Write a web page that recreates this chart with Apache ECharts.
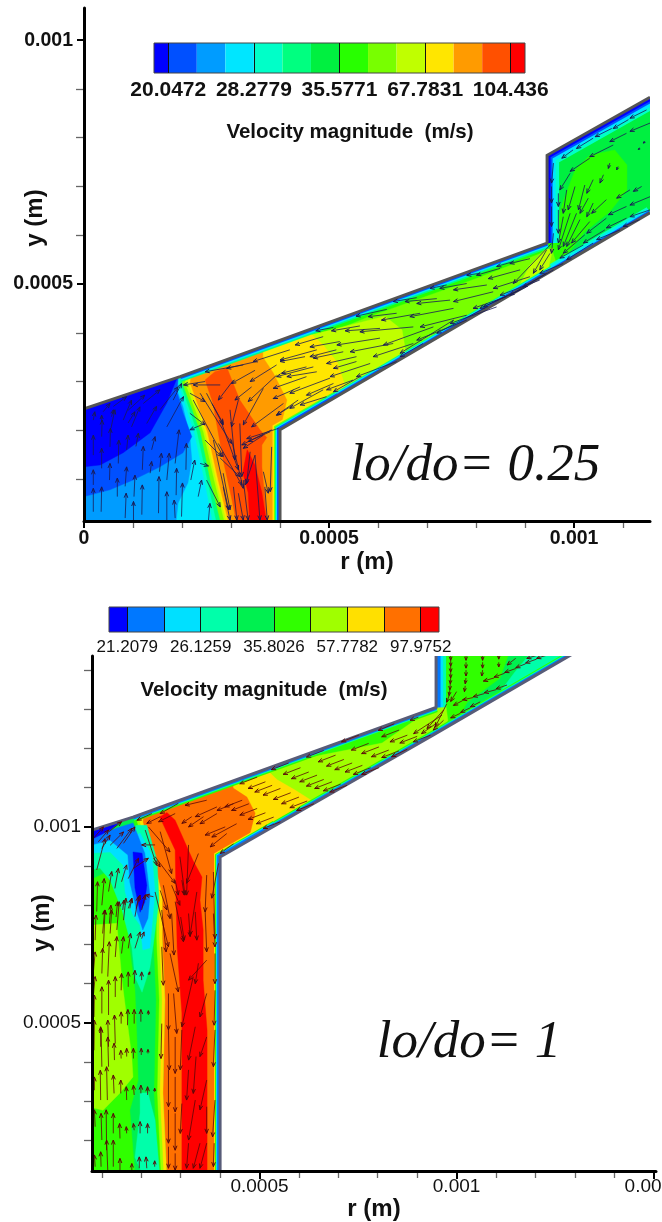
<!DOCTYPE html>
<html><head><meta charset="utf-8">
<style>html,body{margin:0;padding:0;background:#fff}#c{width:662px;height:1222px}</style>
<script src="https://cdn.jsdelivr.net/npm/echarts@6/dist/echarts.min.js"></script>
</head><body><div id="c"></div>
<script>
// All geometry values are in micrometres.
const UM = 1e-6;
const levelsA = ['#0000ff','#0050ff','#009cff','#00e6ff','#00ffc8','#00ff80','#00f040','#28ff00','#78ff00','#c0ff00','#ffe600','#ff9b00','#ff5000','#ff0000'];
const levelsB = ['#0000ff','#0078ff','#00e0ff','#00ffaa','#00f050','#30ff00','#a0ff00','#ffe000','#ff7000','#ff0000'];
const barLabelsA = ['20.0472','28.2779','35.5771','67.7831','104.436'];
const barLabelsB = ['21.2079','26.1259','35.8026','57.7782','97.9752'];
const xMajorA = [0,500,1000], yMajorA = [500,1000];
const xMinorA = [100,200,300,400,600,700,800,900,1100];
const yMinorA = [100,200,300,400,600,700,800,900];
const xMajorB = [500,1000,1500], yMajorB = [500,1000];
const xMinorB = [100,200,300,400,600,700,800,900,1100,1200,1300,1400];
const yMinorB = [200,300,400,600,700,800,900,1100,1200,1300,1400];

const contoursA = [
 [6,[0,-20,1200,-20,1200,1100,0,1100]],
 [7,[175,344,945,600,957,580,975,662,1002,734,1032,764,1083,775,1108,744,1108,693,1073,648,1022,607,981,553,963,518,645,221,175,-65]],
 [8,[441,375,579,432,808,514,930,562,955,570,963,545,951,498,645,221,339,17]],
 [9,[318,365,481,400,614,434,649,406,661,334,441,160,318,160]],
 [9,[940,570,957,574,947,529,889,498,910,539]],
 [10,[298,375,461,400,488,375,518,338,532,293,512,262,339,57,298,57]],
 [11,[0,262,206,334,365,375,365,350,386,318,414,262,400,201,420,-4,0,-4]],
 [10,[0,300,220,340,216,297,251,197,273,98,298,-4,0,-4]],
 [9,[0,300,214,340,212,297,247,197,269,98,294,-4,0,-4]],
 [8,[0,300,208,340,206,297,243,197,265,98,290,-4,0,-4]],
 [5,[0,300,202,340,200,297,237,197,257,98,282,-4,0,-4]],
 [4,[0,300,198,340,196,297,230,197,251,98,273,-4,0,-4]],
 [3,[0,300,194,340,192,297,224,197,245,98,265,-4,0,-4]],
 [2,[0,300,190,340,186,293,202,248,216,187,220,139,212,92,192,51,186,-4,0,-4]],
 [1,[0,64,53,78,100,98,155,125,202,154,220,187,202,236,190,277,192,307,0,300]],
 [0,[0,125,33,129,80,154,135,195,169,256,190,307,0,300]],
 [12,[247,303,267,320,292,328,304,297,318,262,359,201,373,185,363,170,363,125,375,-4,314,-4,302,57,284,139,263,256]],
 [13,[333,160,349,129,363,72,375,-4,339,-4,335,72,324,113]]
];
const maskA = [
 [0,244,196,310,945,584,945,764,1155,883,1155,1100,0,1100],
 [400,-20,400,201,957,529,1155,646,1155,-20]
];
const ductUpperA = [196,310,945,584];
const stepA = [945,584,945,764,1155,883];
const nozzleA = [400,14,400,201,520,271];
const ductLowerA = [400,14,400,201,957,529];
const exitLowerA = [957,529,1155,646];
const wallA = [[0,244,196,310,945,584,945,764,1155,883],[400,0,400,201,957,529,1155,646]];
const bandsA = [
 [ductUpperA,5,11],[ductUpperA,3,8],[ductUpperA,1,5],
 [ductLowerA,5,9],[ductLowerA,3,7],[ductLowerA,1,5],
 [nozzleA,10,15],[nozzleA,8,12],[nozzleA,5,10],[nozzleA,3,8],[nozzleA,1,6],
 [exitLowerA,4,13],[exitLowerA,3,9],[exitLowerA,1,5],
 [stepA,4,24],[stepA,3,17],[stepA,1,11],[stepA,0,7]
];
const arrowsLeftA = [
 [19,33,19,81],[19,88,19,119],[19,149,19,190],[35,33,36,84],[36,122,36,163],[36,187,37,221],[52,98,53,132],[53,166,54,204],
 [55,204,63,242],[68,64,68,102],[70,132,71,180],[84,20,86,71],[84,85,87,125],[87,160,90,190],[90,215,104,238],[101,16,101,54],
 [102,64,104,108],[119,119,121,167],[106,167,111,194],[118,27,119,88],[135,112,138,136],[138,160,145,187],[152,30,153,105],
 [154,115,158,153],[169,16,169,74],[169,98,174,153],[186,20,184,57],[188,67,189,122],[186,132,194,201],[199,23,201,92],
 [208,119,209,173],[218,98,226,139],[169,207,203,269],[128,214,148,249],[97,207,114,248],[80,221,97,262],[56,228,60,242],
 [36,218,36,231],[19,221,22,238],[90,241,124,272],[60,249,87,269],[39,238,53,255],[121,255,155,283],[155,242,192,289],
 [182,262,199,296],[254,16,257,50],[233,64,240,98]
];
const arrowsFrontA = [
 [216,276,247,259],[216,235,247,211],[247,214,216,201],[237,132,254,127],[247,300,203,293],[278,293,223,293],[325,334,247,320],
 [352,341,291,327],[305,303,274,262],[349,323,301,296],[342,289,308,262],[393,313,335,259],[366,286,325,211],[315,262,301,207],
 [407,255,342,207],[437,262,393,231],[250,276,284,211],[237,276,301,173],[223,262,284,146],[247,180,281,146],[261,255,284,214],
 [264,180,295,37],[250,98,278,43],[278,143,318,105],[298,242,308,139],[318,214,322,105],[301,180,325,81],[284,112,298,37],
 [383,201,322,170],[380,197,335,177],[366,190,325,163],[397,204,332,183],[349,149,329,88],[339,156,332,91],[366,115,376,71],
 [383,166,380,74],[325,98,335,16],[349,149,359,16],[369,84,374,16],[315,71,325,16],[305,84,312,16],[284,84,298,16],
 [274,173,322,88],[281,214,315,119]
];
const arrowsDuctA = [
 [475,365,400,344],[420,365,345,341],[468,330,393,310],[393,334,339,300],[454,310,386,286],[441,289,386,265],[427,252,393,231],
 [515,365,461,351],[509,296,454,272],[495,269,441,252],[549,303,495,283],[556,341,509,327],
 [509,411,473,404],[618,448,555,434],[679,472,631,464],[740,498,706,491],[808,522,781,518],[876,546,842,536],
 [488,392,431,375],[563,414,505,404],[638,440,580,433],[720,470,655,464],[781,501,726,491],[849,532,801,518],[910,552,869,542],
 [451,351,400,341],[522,382,461,371],[604,409,533,404],[686,440,607,426],[747,467,679,460],[822,498,754,488],[890,529,825,511],
 [454,330,403,317],[529,361,468,348],[604,389,516,375],[672,412,563,402],[754,450,665,433],[835,484,754,464],[910,515,835,491],
 [475,320,414,310],[556,351,495,337],[631,378,543,361],[713,412,611,375],[781,436,686,412],[862,474,794,450],[930,508,849,477],
 [502,307,420,276],[584,337,502,310],[672,378,590,351],[754,426,645,358],[822,453,720,399],[890,488,808,450],[944,522,869,477],
 [488,283,420,245],[563,310,509,279],[638,341,556,310],[692,378,645,351],[781,426,679,385],[842,453,747,419],[903,494,815,453],[958,529,896,494],
 [944,570,917,522],[951,563,930,529],[954,583,876,501],[978,542,930,522]
];
const arrowsExitA = [
 [1148,857,1114,840],[1111,837,1080,819],[1077,819,1043,802],[1039,799,1005,778],[998,775,975,758],
 [1155,830,1114,813],[1107,809,1073,792],[1080,785,1032,761],[1032,758,992,731],[992,727,971,693],[968,686,968,659],
 [958,748,954,707],[954,700,954,666],[954,659,954,618],[968,652,968,604],[958,604,954,563],[985,693,978,645],[978,638,968,584],
 [1002,700,988,652],[992,645,968,570],[1022,703,1009,652],[1005,645,978,577],[1039,714,1026,686],[1029,676,1012,645],[1012,632,985,577],
 [1060,724,1053,707],[1039,666,1026,638],[1073,748,1070,737],[1090,741,1087,734],[1066,673,1036,645],[1032,628,995,584],
 [1114,693,1087,676],[1138,700,1121,690],[1155,679,1114,662],[1107,659,1070,642],[1066,635,1026,604],[1022,601,978,563],
 [1155,652,1114,638],[1107,635,1066,615],[1063,611,1019,584],[1019,580,971,553],[1134,632,1100,618],[1094,611,1046,591],[1039,584,985,550],
 [1145,792,1141,789],[1134,778,1131,776]
];

const contoursB = [
 [4,[70,100,1600,100,1600,1500,70,1500]],
 [5,[976,1451,1136,1451,1110,1379,1027,1318,983,1234,450,800,450,1140,933,1293,966,1316]],
 [3,[1194,1451,1339,1451,1085,1310,1098,1328,1148,1395]],
 [6,[450,1130,615,1175,722,1196,811,1214,887,1267,940,1298,971,1323,978,1272,958,1221,603,915,450,800]],
 [7,[349,1132,519,1145,545,1120,590,1094,631,1068,640,1040,476,915,349,915]],
 [8,[197,1068,433,1145,433,1099,468,1076,489,1035,476,984,400,923,412,99,265,99,255,321,260,558,253,716,253,826,230,920,204,1012]],
 [7,[70,1040,204,1040,204,1012,230,920,253,826,253,716,260,558,255,321,265,99,70,99]],
 [6,[70,1040,196,1040,196,1012,222,920,245,826,245,716,252,558,247,321,257,99,70,99]],
 [5,[70,1040,189,1040,189,1012,215,920,238,826,238,716,245,558,240,321,250,99,70,99]],
 [4,[70,1040,181,1040,181,1012,207,920,230,826,230,716,237,558,232,321,242,99,70,99]],
 [9,[247,1025,265,1037,286,1017,331,915,354,872,349,813,357,737,357,609,367,481,367,99,303,99,303,525,291,693,288,831,286,941]],
 [5,[70,864,113,885,133,833,164,775,171,686,184,584,189,456,192,354,171,277,184,111,70,111]],
 [6,[70,749,138,754,151,609,176,413,179,362,146,321,103,277,70,285]],
 [3,[70,953,189,1004,214,1004,240,915,245,813,232,711,222,642,202,578,184,617,176,693,151,788,121,864,95,895,70,890]],
 [2,[70,979,121,984,171,971,197,984,227,928,235,833,222,691,204,686,197,749,179,775,159,833,154,902,121,936,70,933]],
 [1,[70,971,138,997,179,1010,209,933,222,826,217,767,204,737,189,783,171,859,166,928,121,966,70,953]],
 [0,[179,936,202,933,214,851,209,808,197,782,184,844]],
 [0,[70,987,146,1012,121,992,70,966]],
 [3,[197,321,217,321,235,252,247,111,204,111,184,157,197,270]]
];
const maskB = [
 [75,992,179,1025,948,1305,948,1500,75,1500],
 [400,100,400,923,940,1234,1388,1496,1600,1496,1600,100]
];
const ductUpperB = [179,1025,948,1305];
const stepB = [948,1305,948,1500];
const nozzleB = [400,122,400,923,540,1004];
const ductLowerB = [400,122,400,923,940,1234,1388,1496];
const wallB = [[75,992,179,1025,948,1305,948,1500],[400,100,400,923,940,1234,1388,1496]];
const bandsB = [
 [ductUpperB,5,10],[ductUpperB,3,7],[ductUpperB,1,5],
 [ductLowerB,5,9],[ductLowerB,3,7],[ductLowerB,1,5],
 [nozzleB,7,12],[nozzleB,5,10],[nozzleB,2,8],[nozzleB,1,6],
 [stepB,3,20],[stepB,2,14],[stepB,1,9]
];
const arrowsUpB = [
 [83,711,85,775],[102,728,107,788],[119,753,123,800],[136,770,140,809],[153,788,156,813],[167,792,176,817],[187,792,197,826],
 [79,634,83,681],[100,626,102,690],[115,618,119,707],[134,668,138,720],[150,677,155,720],[167,690,173,728],[184,690,197,732],[201,715,207,732],
 [79,575,83,618],[100,524,100,592],[117,520,117,609],[134,566,134,618],[149,583,150,626],[167,592,167,630],[182,600,184,634],[201,609,201,630],[218,622,222,630],
 [80,515,81,571],[97,439,97,490],[117,439,115,507],[134,447,132,520],[149,498,149,528],[165,494,166,534],[182,498,182,534],[199,503,199,534],[218,520,218,531],
 [80,430,81,507],[100,388,98,486],[117,388,115,464],[132,405,131,448],[149,409,148,430],[163,414,163,435],[180,409,180,435],[200,418,200,435],[217,422,217,432],
 [81,328,81,362],[97,303,96,379],[114,303,112,388],[131,320,129,367],[148,320,148,354],[163,303,162,337],[182,316,180,341],[199,320,199,341],[216,316,216,337],[234,324,234,333],
 [83,235,81,278],[100,201,98,269],[112,175,111,278],[129,218,129,269],[146,205,145,243],[163,218,162,235],[182,226,180,243],[197,218,197,248],[216,218,216,243],
 [83,133,81,163],[98,133,97,171],[115,124,112,201],[129,133,129,201],[146,124,146,154],[176,124,176,141],[195,129,195,158],[214,129,212,158],[234,133,234,148],
 [87,890,108,970],[87,784,89,860],[100,800,106,868],[117,835,125,886],[133,843,142,894],[150,860,163,903],[167,868,193,920],[180,894,218,920],
 [100,945,121,979],[121,953,155,987],[138,945,176,996],[155,958,184,1000],[91,962,117,992],[78,970,104,1000],[117,987,150,1013],
 [104,690,108,788],[121,728,125,788],[138,737,144,809],[155,762,161,818],[171,792,176,818],[184,771,193,822],[201,788,210,826],[231,822,210,826]
];
const arrowsDownB = [
 [248,838,265,788],[286,864,294,826],[303,864,309,826],[252,788,263,681],[277,779,283,673],[300,770,309,711],[320,779,324,720],[337,783,341,711],
 [362,788,366,681],[383,779,387,694],[252,694,256,596],[273,677,294,579],[366,660,320,609],[387,677,387,600],[345,652,337,600],
 [269,575,269,482],[282,575,290,473],[366,575,349,515],[332,618,303,490],[387,583,385,494],[252,498,250,409],[269,482,271,380],[286,464,286,371],
 [366,464,349,414],[337,490,320,405],[387,482,383,388],[269,380,269,286],[286,362,286,273],[320,380,315,303],[366,354,349,278],[339,414,332,320],
 [303,482,299,380],[269,278,269,193],[286,269,286,175],[337,303,320,201],[366,286,366,218],[387,303,381,209],[303,294,299,218],
 [269,184,269,129],[286,167,286,124],[349,193,332,129],[366,193,349,129],[385,193,383,133],[320,193,315,129],
 [235,954,201,954],[218,1000,273,936],[210,992,239,902],[248,988,277,881],[235,924,286,856],[231,920,248,898],[235,834,269,694],[256,851,273,766],
 [277,851,298,800],[298,924,311,826],[320,954,315,826],[345,932,315,856],[366,877,362,783],[396,907,379,818],[383,885,387,715],[341,834,324,724],[286,809,307,707]
];
const arrowsDuctB = [
 [366,1068,311,1055],[294,1060,248,1034],[227,1034,189,1017],[248,1026,214,1009],[286,1034,244,1013],[358,1026,320,1000],[328,1026,303,1009],
 [392,1034,349,1008],[413,1000,362,979],[392,1051,337,1026],[434,1059,392,1042],[442,1008,379,974],[417,983,375,949],[434,957,400,932],
 [494,1127,450,1110],[515,1115,471,1098],[532,1106,488,1089],[553,1098,509,1081],[579,1087,535,1070],[600,1076,556,1059],[621,1066,577,1049],[638,1059,594,1042],
 [456,1068,412,1051],[473,1059,429,1042],[494,1047,450,1030],[515,1036,471,1019],[536,1025,492,1008],[553,1013,509,996],
 [574,1163,530,1146],[604,1151,560,1134],[625,1140,581,1123],[646,1132,602,1115],[663,1121,619,1104],[684,1115,640,1098],[706,1109,662,1092],[722,1106,678,1089],
 [663,1195,619,1178],[693,1183,649,1166],[714,1172,670,1155],[735,1163,691,1146],[761,1157,717,1140],[782,1151,738,1134],[803,1151,759,1134],
 [752,1234,708,1217],[777,1213,733,1196],[803,1204,759,1187],[828,1196,784,1179],[854,1194,810,1177],[875,1198,835,1179],
 [842,1263,801,1246],[854,1247,810,1230],[875,1234,831,1217],[900,1231,856,1214],[934,1234,890,1217],[950,1265,911,1238],
 [963,1285,891,1238],[967,1298,925,1251],[975,1314,946,1255],[967,1272,941,1247],[903,1280,882,1272]
];
const arrowsExitB = [
 [985,1440,985,1425],[985,1425,985,1410],[985,1410,985,1395],[985,1395,985,1380],[985,1380,984,1365],[984,1365,983,1350],[983,1350,981,1335],[981,1335,975,1318],
 [1024,1440,1024,1425],[1024,1420,1024,1405],[1024,1400,1024,1385],[1024,1380,1022,1365],[1022,1360,1020,1345],
 [1066,1440,1066,1425],[1066,1420,1066,1405],[1066,1400,1064,1385],[1107,1440,1107,1428],[1107,1420,1107,1408],
 [1229,1438,1203,1430],[1203,1428,1175,1418],[1175,1416,1150,1406],[1150,1404,1122,1394],[1122,1392,1095,1382],[1095,1380,1068,1372],
 [1150,1430,1128,1413],[1229,1445,1178,1430],
 [1128,1362,1100,1352],[1100,1350,1070,1342],[1070,1340,1042,1332],[1042,1330,1015,1324],[1015,1322,992,1310],
 [1060,1319,1035,1306],[1035,1304,1010,1292],[1010,1290,985,1278],[1000,1345,985,1320]
];

function pts(api, flat){const o=[];for(let i=0;i<flat.length;i+=2)o.push(api.coord([flat[i]*UM,flat[i+1]*UM]));return o;}
const coordsOf = e => Array.isArray(e[1]) ? e[1] : e;
function fillSeries(ax, list, colorOf, z){
  return {type:'custom',xAxisIndex:ax,yAxisIndex:ax,clip:true,z,silent:true,
    data:list.map((_,i)=>[i]),encode:{x:-1,y:-1},
    renderItem:(p,api)=>({type:'polygon',shape:{points:pts(api,coordsOf(list[p.dataIndex]))},
      style:{fill:colorOf(list[p.dataIndex]),stroke:colorOf(list[p.dataIndex]),lineWidth:0.4}})};
}
function lineSeries(ax, list, pathOf, styleOf, z){
  return {type:'custom',xAxisIndex:ax,yAxisIndex:ax,clip:true,z,silent:true,
    data:list.map((_,i)=>[i]),encode:{x:-1,y:-1},
    renderItem:(p,api)=>({type:'polyline',shape:{points:pts(api,pathOf(list[p.dataIndex]))},
      style:Object.assign({fill:null,lineJoin:'miter'},styleOf(list[p.dataIndex]))})};
}
function arrowSeries(ax, list, color, z){
  return {type:'custom',xAxisIndex:ax,yAxisIndex:ax,clip:true,z,silent:true,
    data:list.map((_,i)=>[i]),encode:{x:-1,y:-1},
    renderItem:(p,api)=>{
      const q=list[p.dataIndex],a=api.coord([q[0]*UM,q[1]*UM]),b=api.coord([q[2]*UM,q[3]*UM]);
      const dx=b[0]-a[0],dy=b[1]-a[1],L=Math.hypot(dx,dy)||1,ux=dx/L,uy=dy/L;
      const h=Math.min(4.5,0.4*L+1.2),w=h*0.4;
      return {type:'group',children:[
        {type:'line',shape:{x1:a[0],y1:a[1],x2:b[0],y2:b[1]},style:{stroke:color,lineWidth:0.8,fill:null}},
        {type:'polyline',shape:{points:[[b[0]-ux*h-uy*w,b[1]-uy*h+ux*w],b,[b[0]-ux*h+uy*w,b[1]-uy*h-ux*w]]},style:{stroke:color,lineWidth:1,fill:null}}
      ]};
    }};
}
function barSeries(ax, colors){
  const n=colors.length;
  return {type:'custom',xAxisIndex:ax,yAxisIndex:ax,clip:true,z:6,silent:true,
    data:colors.map((_,i)=>[i]),encode:{x:-1,y:-1},
    renderItem:(p,api)=>{
      const i=p.dataIndex,a=api.coord([Math.max(i-1,-0.5),0]),b=api.coord([Math.min(i,n-1.5),1]);
      return {type:'rect',shape:{x:a[0],y:b[1],width:b[0]-a[0],height:a[1]-b[1]},style:{fill:colors[i]}};
    }};
}
const sans='"Liberation Sans",Arial,sans-serif', serif='"Liberation Serif","Times New Roman",serif';
const fmt=v=>String(+(v).toFixed(6));
const m=a=>a.map(v=>v*UM);
function majorAxis(min,max,major,pos,opt){
  return {type:'value',min:min*UM,max:max*UM,position:pos,z:10,splitLine:{show:false},
    axisLine:{show:true,onZero:false,lineStyle:{color:'#000',width:opt.axisW}},
    axisTick:{show:true,customValues:m(major),length:opt.tick,lineStyle:{color:'#000',width:2}},
    axisLabel:{show:true,customValues:m(major),formatter:fmt,margin:opt.margin,color:'#111',
      fontFamily:sans,fontSize:opt.font,fontWeight:opt.weight,hideOverlap:false,showMinLabel:true,showMaxLabel:true}};
}
function minorAxis(min,max,minor,pos,len){
  return {type:'value',min:min*UM,max:max*UM,position:pos,z:9,splitLine:{show:false},
    axisLine:{show:false,onZero:false},axisLabel:{show:false},
    axisTick:{show:true,customValues:m(minor),length:len,lineStyle:{color:'#666',width:1.3}}};
}
function barAxis(n,labels,step,font,weight,ticks,h){
  const pos=labels.map((_,i)=>i*step);
  return {type:'value',min:-0.5,max:n-1.5,position:'bottom',z:12,splitLine:{show:false},
    axisLine:{show:false,onZero:false},
    axisTick:{show:true,inside:true,customValues:ticks,length:h,lineStyle:{color:'#111',width:1}},
    axisLabel:{show:true,customValues:pos,formatter:v=>labels[Math.round(v/step)],margin:7,color:'#111',
      fontFamily:sans,fontSize:font,fontWeight:weight,hideOverlap:false}};
}
const hiddenY={type:'value',min:0,max:1,show:false};
const titleStyle=(t,f,w)=>({text:t,fill:'#111',fontFamily:sans,fontSize:f,fontWeight:w,textAlign:'center',textVerticalAlign:'middle'});

const chart=echarts.init(document.getElementById('c'),null,{renderer:'canvas',width:662,height:1222});
const A={axisW:3,tick:7,margin:11,font:19.5,weight:'bold'};
const B={axisW:3,tick:8,margin:11,font:19,weight:'normal'};
const xa=majorAxis(0,1155,xMajorA,'bottom',Object.assign({},A,{margin:8}));
xa.name='r (m)';xa.nameLocation='middle';xa.nameGap=27;xa.nameTextStyle={fontFamily:sans,fontSize:24,fontWeight:'bold',color:'#111'};
const xb=majorAxis(75,1506,xMajorB,'bottom',Object.assign({},B,{margin:6}));
xb.name='r (m)';xb.nameLocation='middle';xb.nameGap=26;xb.nameTextStyle={fontFamily:sans,fontSize:24,fontWeight:'bold',color:'#111'};
const noBounds={outerBoundsMode:'none',containLabel:false};
chart.setOption({
  animation:false,backgroundColor:'#fff',
  grid:[
    Object.assign({left:84,top:8,width:566,height:513},noBounds),
    Object.assign({left:92,top:656,width:564,height:515},noBounds),
    Object.assign({left:154,top:43,width:371,height:30,show:true,borderColor:'#444',borderWidth:1,backgroundColor:'transparent',z:7},noBounds),
    Object.assign({left:109,top:607,width:330,height:25,show:true,borderColor:'#444',borderWidth:1,backgroundColor:'transparent',z:7},noBounds)
  ],
  xAxis:[
    Object.assign(xa,{gridIndex:0}),
    Object.assign(minorAxis(0,1155,xMinorA,'bottom',7),{gridIndex:0}),
    Object.assign(xb,{gridIndex:1}),
    Object.assign(minorAxis(75,1506,xMinorB,'bottom',7),{gridIndex:1}),
    Object.assign(barAxis(14,barLabelsA,3,21,'bold',[0,3,6,9,12],30),{gridIndex:2}),
    Object.assign(barAxis(10,barLabelsB,2,17,'normal',[0,1,2,3,4,5,6,7,8],25),{gridIndex:3})
  ],
  yAxis:[
    Object.assign(majorAxis(14,1066,yMajorA,'left',A),{gridIndex:0}),
    Object.assign(minorAxis(14,1066,yMinorA,'left',8),{gridIndex:0}),
    Object.assign(majorAxis(122,1436,yMajorB,'left',B),{gridIndex:1}),
    Object.assign(minorAxis(122,1436,yMinorB,'left',8),{gridIndex:1}),
    Object.assign({},hiddenY,{gridIndex:2}),
    Object.assign({},hiddenY,{gridIndex:3})
  ],
  series:[
    fillSeries(0,contoursA,c=>levelsA[c[0]],1),
    lineSeries(0,bandsA,b=>b[0],b=>({stroke:levelsA[b[1]],lineWidth:b[2]}),2),
    fillSeries(0,maskA,()=>'#fff',3),
    lineSeries(0,wallA,w=>w,()=>({stroke:'#555',lineWidth:3}),4),
    arrowSeries(0,arrowsLeftA.concat(arrowsFrontA,arrowsDuctA,arrowsExitA),'#1a1a55',5),
    fillSeries(2,contoursB,c=>levelsB[c[0]],1),
    lineSeries(2,bandsB,b=>b[0],b=>({stroke:levelsB[b[1]],lineWidth:b[2]}),2),
    fillSeries(2,maskB,()=>'#fff',3),
    lineSeries(2,wallB,w=>w,()=>({stroke:'#585c78',lineWidth:3}),4),
    arrowSeries(2,arrowsUpB.concat(arrowsDownB,arrowsDuctB,arrowsExitB),'#5a0808',5),
    barSeries(4,levelsA),
    barSeries(5,levelsB)
  ],
  graphic:[
    {type:'text',x:350,y:132,z:20,style:titleStyle('Velocity magnitude  (m/s)',20.5,'bold')},
    {type:'text',x:264,y:690,z:20,style:titleStyle('Velocity magnitude  (m/s)',20.5,'bold')},
    {type:'text',x:35,y:218,rotation:Math.PI/2,z:20,style:titleStyle('y (m)',24,'bold')},
    {type:'text',x:42,y:923,rotation:Math.PI/2,z:20,style:titleStyle('y (m)',24,'bold')},
    {type:'text',x:475,y:466,z:20,style:{text:'lo/do= 0.25',fill:'#111',fontFamily:serif,fontStyle:'italic',fontSize:53,textAlign:'center',textVerticalAlign:'middle'}},
    {type:'text',x:469,y:1043,z:20,style:{text:'lo/do= 1',fill:'#111',fontFamily:serif,fontStyle:'italic',fontSize:53,textAlign:'center',textVerticalAlign:'middle'}}
  ]
});
</script></body></html>
